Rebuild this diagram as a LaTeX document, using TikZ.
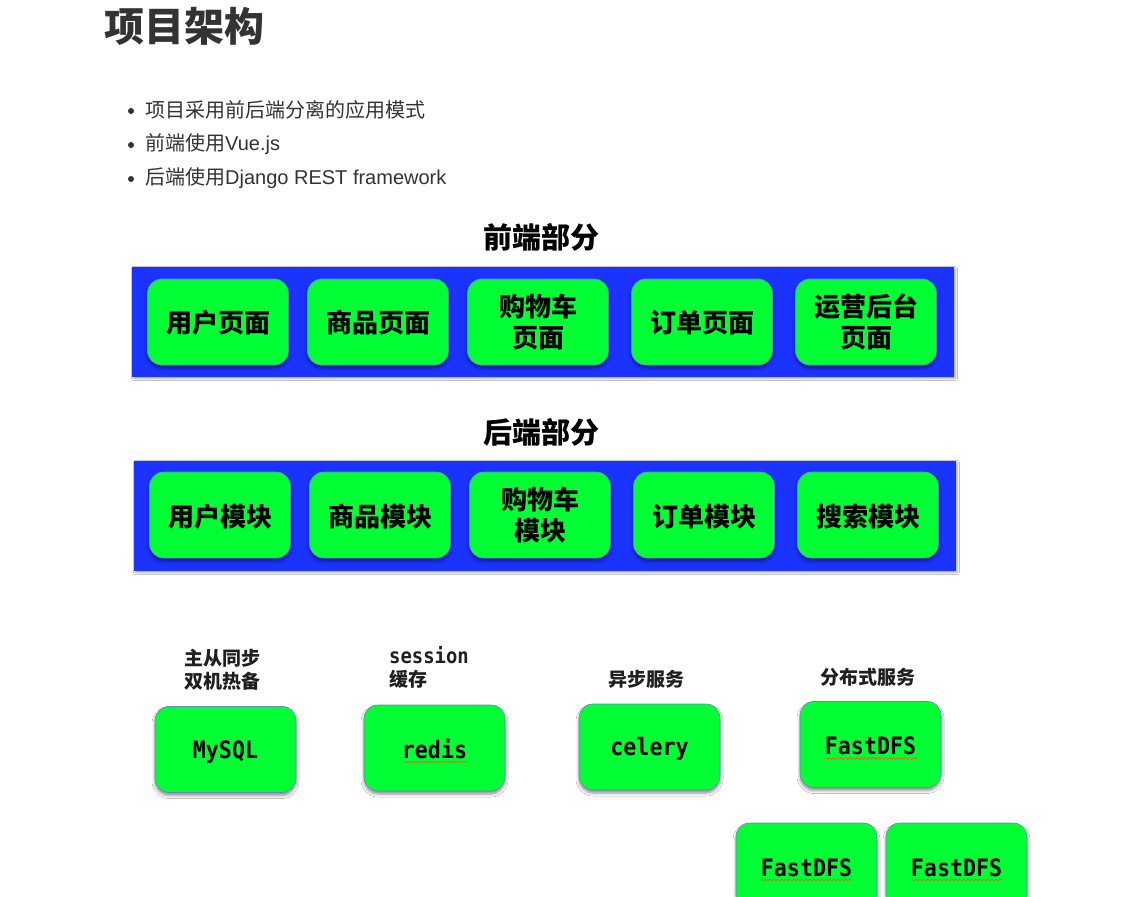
\documentclass[tikz,border=0pt]{standalone}
\usepackage{fontspec}
\setmainfont{Liberation Sans}
\newfontfamily\cjk{Noto Sans CJK SC}
\newfontfamily\monof{DejaVu Sans Mono}[FakeStretch=0.9]
\usetikzlibrary{shadows.blur,decorations.pathmorphing,calc}
\definecolor{bandblue}{RGB}{26,51,255}
\definecolor{boxgreen}{RGB}{0,255,51}
\definecolor{boxedge}{RGB}{110,130,200}
\definecolor{txt}{RGB}{51,51,51}
\definecolor{squig}{RGB}{230,90,40}
\newcommand\lowertext[2]{\raisebox{-#1}[\height][\depth]{#2}}
\begin{document}
\begin{tikzpicture}[x=1pt,y=-1pt,
 band/.style={rectangle, fill=bandblue, minimum width=822pt, minimum height=110pt, inner sep=0pt,
   blur shadow={shadow xshift=1.5pt, shadow yshift=-1.5pt, shadow blur radius=2pt, shadow opacity=35}},
 gbox/.style={rectangle, rounded corners=14pt, fill=boxgreen, draw=boxedge, line width=0.6pt,
   minimum width=141pt, minimum height=86pt, inner sep=0pt, align=center, text=black,
   blur shadow={shadow xshift=0pt, shadow yshift=-3pt, shadow blur radius=3pt, shadow opacity=45}},
 cjkbox/.style={font=\cjk\bfseries\fontsize{26}{31}\selectfont},
 monobox/.style={font=\monof\bfseries\fontsize{24}{28}\selectfont},
 header/.style={font=\cjk\bfseries\fontsize{29}{34}\selectfont, text=black, inner sep=0pt},
 lbl/.style={font=\cjk\bfseries\fontsize{19}{23}\selectfont, text=txt!60!black, inner sep=0pt, align=left, anchor=west},
 bullettext/.style={font=\fontsize{20}{24}\selectfont, text=txt, inner sep=0pt, anchor=west},
 dot/.style={circle, fill=txt, inner sep=0pt, minimum size=6pt},
 squiggle/.style={draw=squig, line width=0.6pt, decorate, decoration={snake, segment length=4pt, amplitude=1pt}}
]
\useasboundingbox (0,0) rectangle (1125,897);
\clip (0,0) rectangle (1125,897);
\fill[white] (0,0) rectangle (1125,897);

% title and bullets
\node[anchor=west, font=\cjk\bfseries\fontsize{40}{44}\selectfont, text=txt, inner sep=0pt] (title) at (104,26) {项目架构};
\node[dot] (d1) at (131,111) {};
\node[bullettext] (b1) at (145,110) {\cjk 项目采用前后端分离的应用模式};
\node[dot] (d2) at (131,145) {};
\node[bullettext] (b2) at (145,144) {{\cjk 前端使用}Vue.js};
\node[dot] (d3) at (131,179) {};
\node[bullettext] (b3) at (145,178) {{\cjk 后端使用}Django REST framework};

% front end
\node[header] (fhead) at (541,237) {前端部分};
\node[band] (fband) at (543,322) {};
\node[gbox, cjkbox] (f1) at (218,322) {\lowertext{1pt}{用户页面}};
\node[gbox, cjkbox] (f2) at (378,322) {\lowertext{1pt}{商品页面}};
\node[gbox, cjkbox] (f3) at (538,322) {购物车\\页面};
\node[gbox, cjkbox] (f4) at (702,322) {\lowertext{1pt}{订单页面}};
\node[gbox, cjkbox] (f5) at (866,322) {运营后台\\页面};

% back end
\node[header] (bhead) at (541,432) {后端部分};
\node[band] (bband) at (545,516) {};
\node[gbox, cjkbox] (k1) at (220,515) {\lowertext{2pt}{用户模块}};
\node[gbox, cjkbox] (k2) at (380,515) {\lowertext{2pt}{商品模块}};
\node[gbox, cjkbox] (k3) at (540,515) {购物车\\模块};
\node[gbox, cjkbox] (k4) at (704,515) {\lowertext{2pt}{订单模块}};
\node[gbox, cjkbox] (k5) at (868,515) {\lowertext{2pt}{搜索模块}};

% services
\node[lbl] (l1) at (184,669.5) {主从同步\\双机热备};
\node[lbl, font=\monof\bfseries\fontsize{21}{23}\selectfont] (l2) at (389,667.5) {session\\{\cjk\fontsize{19}{23}\selectfont 缓存}};
\node[lbl] (l3) at (608,679) {异步服务};
\node[lbl] (l4) at (820,677) {分布式服务};

\node[gbox, monobox] (mysql) at (225.5,749.5) {\lowertext{3pt}{MySQL}};
\node[gbox, monobox] (redis) at (434.5,748) {\lowertext{1pt}{redis}};
\node[gbox, monobox] (celery) at (649.5,747) {\lowertext{2pt}{celery}};
\node[gbox, monobox] (fdfs) at (870.5,744.5) {\lowertext{1.5pt}{FastDFS}};
\node[gbox, monobox] (fdfs2) at (806.5,866) {\lowertext{1.5pt}{FastDFS}};
\node[gbox, monobox] (fdfs3) at (956.5,866) {\lowertext{1.5pt}{FastDFS}};

\draw[squiggle] ($(redis.center)+(-31,14)$) -- ($(redis.center)+(33,14)$);
\draw[squiggle] ($(fdfs.center)+(-46,14)$) -- ($(fdfs.center)+(46,14)$);
\draw[squiggle] ($(fdfs2.center)+(-46,14)$) -- ($(fdfs2.center)+(46,14)$);
\draw[squiggle] ($(fdfs3.center)+(-46,14)$) -- ($(fdfs3.center)+(46,14)$);
\end{tikzpicture}
\end{document}
